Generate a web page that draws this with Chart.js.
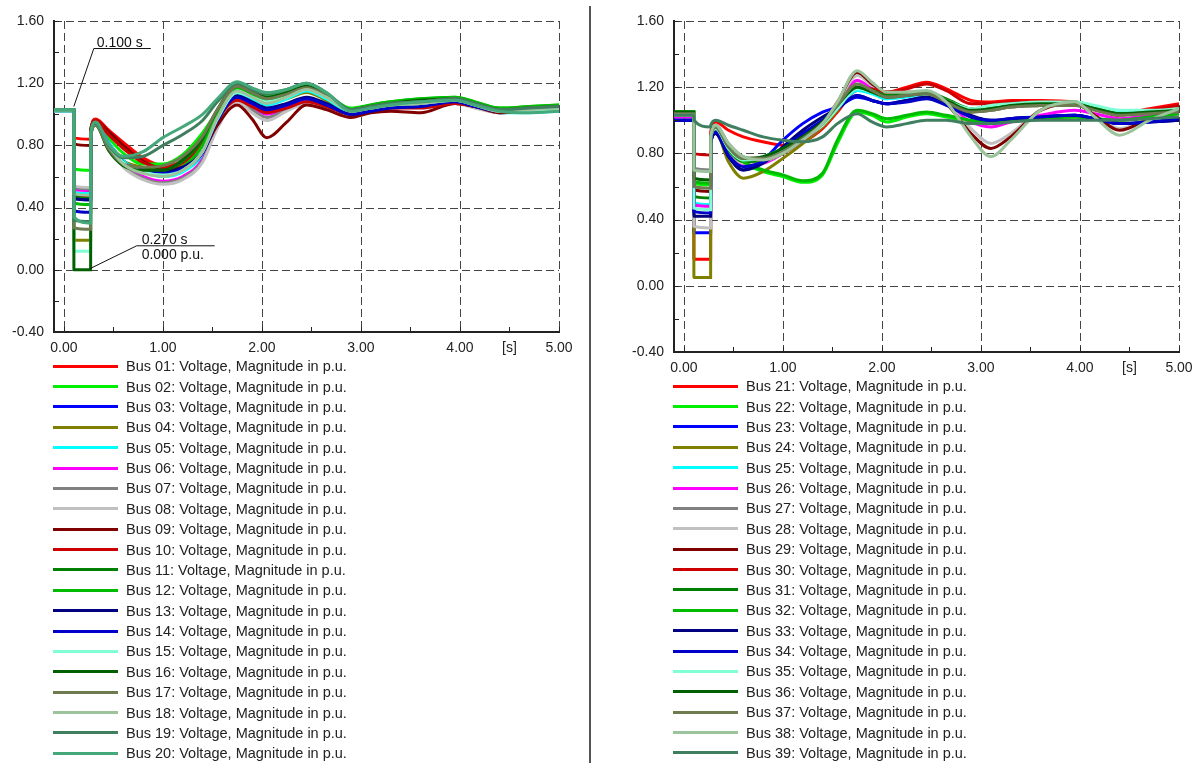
<!DOCTYPE html>
<html>
<head>
<meta charset="utf-8">
<script src="https://cdn.jsdelivr.net/npm/chart.js@4.4.1/dist/chart.umd.min.js"></script>
<style>
  body { margin: 0; background: #fff; font-family: "Liberation Sans", Arial, sans-serif; }
  #page { position: relative; width: 1195px; height: 763px; overflow: hidden; }
  .box { position: absolute; }
  .legend { position: absolute; font-size: 14.5px; color: #222; }
  .legend .row { height: 20.38px; display: flex; align-items: center; white-space: nowrap; }
  .legend .swatch { width: 65px; height: 3px; margin-right: 8px; flex: none; }
  #divider { position: absolute; left: 589px; top: 6px; width: 2px; height: 757px; background: #555; }
</style>
</head>
<body>
<div id="page">
  <div class="box" style="left:0;top:0;width:590px;height:362px"><canvas id="leftChart"></canvas></div>
  <div class="box" style="left:595px;top:0;width:610px;height:382px"><canvas id="rightChart"></canvas></div>
  <div id="divider"></div>
  <div class="legend" id="leftLegend" style="left:53px;top:356px"></div>
  <div class="legend" id="rightLegend" style="left:673px;top:376px"></div>
</div>

<script>
// simulation time in s (fault 0.100 s .. 0.270 s)
const timeS = [-0.1, 0.1, 0.101, 0.27, 0.271, 0.32, 0.45, 0.6, 0.8, 1.0, 1.2, 1.4, 1.55, 1.75,
               1.9, 2.05, 2.25, 2.45, 2.65, 2.9, 3.1, 3.3, 3.6, 3.95, 4.15, 4.4, 4.7, 5.0];

const xTickValues = [0, 0.5, 1, 1.5, 2, 2.5, 3, 3.5, 4, 4.5, 5];
const yTickValues = [-0.4, -0.2, 0, 0.2, 0.4, 0.6, 0.8, 1.0, 1.2, 1.4, 1.6];

// voltage magnitudes in p.u., buses 01-20
const bus01 = [1.02,1.02, 0.85,0.84, 0.90,0.97, 0.90,0.82,0.72,0.67,0.70,0.84,0.98,1.10, 1.06,1.02,1.05,1.09,1.06,1.00, 1.03,1.05,1.05,1.08, 1.05,1.02,1.03,1.04];
const bus02 = [1.03,1.03, 0.65,0.64, 0.90,0.96, 0.85,0.75,0.68,0.68,0.74,0.88,1.02,1.17, 1.14,1.12,1.15,1.19,1.13,1.04, 1.06,1.08,1.10,1.11, 1.08,1.04,1.05,1.06];
const bus03 = [1.02,1.02, 0.46,0.45, 0.88,0.95, 0.82,0.70,0.64,0.63,0.65,0.74,0.96,1.11, 1.07,1.03,1.06,1.10,1.06,1.00, 1.02,1.04,1.05,1.08, 1.05,1.02,1.02,1.03];
const bus04 = [1.02,1.02, 0.19,0.19, 0.86,0.94, 0.80,0.70,0.66,0.64,0.68,0.80,0.98,1.14, 1.10,1.07,1.10,1.14,1.09,1.01, 1.03,1.05,1.06,1.09, 1.06,1.02,1.03,1.04];
const bus05 = [1.02,1.02, 0.50,0.49, 0.88,0.95, 0.82,0.70,0.63,0.60,0.63,0.74,0.95,1.13, 1.10,1.06,1.10,1.15,1.10,1.01, 1.03,1.05,1.06,1.08, 1.05,1.01,1.01,1.02];
const bus06 = [1.02,1.02, 0.52,0.51, 0.88,0.95, 0.81,0.68,0.60,0.57,0.60,0.71,0.93,1.10, 1.05,1.00,1.04,1.09,1.05,0.99, 1.02,1.04,1.05,1.08, 1.05,1.01,1.02,1.03];
const bus07 = [1.02,1.02, 0.53,0.52, 0.88,0.95, 0.80,0.67,0.59,0.56,0.59,0.70,0.92,1.09, 1.03,0.98,1.03,1.08,1.04,0.99, 1.02,1.04,1.05,1.08, 1.05,1.01,1.02,1.03];
const bus08 = [1.02,1.02, 0.54,0.53, 0.88,0.95, 0.80,0.66,0.58,0.55,0.58,0.69,0.91,1.08, 1.01,0.96,1.02,1.07,1.03,0.99, 1.02,1.04,1.05,1.07, 1.04,1.01,1.02,1.03];
const bus09 = [1.02,1.02, 0.81,0.80, 0.90,0.96, 0.89,0.80,0.70,0.65,0.66,0.76,0.93,1.06, 0.97,0.85,0.95,1.06,1.03,0.98, 1.01,1.02,1.01,1.07, 1.05,1.01,1.02,1.03];
const bus10 = [1.02,1.02, 0.48,0.47, 0.88,0.96, 0.87,0.78,0.69,0.66,0.69,0.82,0.97,1.09, 1.05,1.01,1.04,1.08,1.05,1.00, 1.03,1.04,1.04,1.07, 1.05,1.02,1.03,1.04];
const bus11 = [1.03,1.03, 0.47,0.46, 0.87,0.94, 0.78,0.68,0.65,0.64,0.70,0.84,1.02,1.18, 1.14,1.10,1.13,1.17,1.12,1.03, 1.05,1.07,1.08,1.10, 1.07,1.03,1.04,1.05];
const bus12 = [1.03,1.03, 0.43,0.42, 0.87,0.94, 0.80,0.69,0.64,0.62,0.66,0.80,1.00,1.17, 1.13,1.09,1.13,1.18,1.13,1.03, 1.06,1.08,1.10,1.11, 1.08,1.04,1.05,1.06];
const bus13 = [1.02,1.02, 0.46,0.45, 0.87,0.94, 0.80,0.69,0.64,0.63,0.66,0.76,0.97,1.12, 1.08,1.04,1.07,1.11,1.07,1.00, 1.03,1.05,1.06,1.09, 1.06,1.02,1.02,1.03];
const bus14 = [1.02,1.02, 0.38,0.37, 0.87,0.94, 0.80,0.69,0.64,0.62,0.65,0.75,0.96,1.11, 1.07,1.03,1.06,1.10,1.06,1.00, 1.02,1.04,1.05,1.08, 1.05,1.02,1.02,1.03];
const bus15 = [1.02,1.02, 0.12,0.12, 0.86,0.94, 0.80,0.69,0.63,0.61,0.64,0.76,0.97,1.14, 1.11,1.08,1.11,1.16,1.11,1.02, 1.04,1.06,1.07,1.09, 1.06,1.02,1.02,1.03];
const bus16 = [1.03,1.03, 0.00,0.00, 0.86,0.93, 0.77,0.67,0.64,0.64,0.71,0.85,1.03,1.19, 1.15,1.11,1.14,1.18,1.13,1.03, 1.05,1.07,1.09,1.10, 1.07,1.03,1.04,1.05];
const bus17 = [1.03,1.03, 0.27,0.26, 0.86,0.93, 0.78,0.68,0.66,0.67,0.73,0.86,1.03,1.18, 1.14,1.10,1.13,1.17,1.12,1.03, 1.05,1.07,1.08,1.10, 1.07,1.03,1.04,1.05];
const bus18 = [1.03,1.03, 0.49,0.48, 0.87,0.94, 0.80,0.68,0.62,0.60,0.64,0.76,0.98,1.15, 1.11,1.07,1.11,1.16,1.11,1.02, 1.04,1.06,1.07,1.09, 1.06,1.02,1.03,1.04];
const bus19 = [1.03,1.03, 0.32,0.31, 0.87,0.94, 0.80,0.72,0.73,0.80,0.87,0.96,1.08,1.20, 1.16,1.13,1.16,1.20,1.14,1.03, 1.05,1.07,1.08,1.10, 1.07,1.03,1.04,1.05];
const bus20 = [1.03,1.03, 0.34,0.30, 0.88,0.95, 0.81,0.73,0.76,0.85,0.92,1.00,1.10,1.21, 1.17,1.14,1.16,1.20,1.14,1.02, 1.04,1.06,1.08,1.09, 1.06,1.02,1.01,1.02];

// voltage magnitudes in p.u., buses 21-39
const bus21 = [1.03,1.03, 0.16,0.16, 0.93,0.99, 0.94,0.90,0.87,0.85,0.87,0.95,1.05,1.18, 1.18,1.17,1.20,1.23,1.19,1.12, 1.11,1.12,1.12,1.11, 1.08,1.04,1.07,1.10];
const bus22 = [1.05,1.05, 0.62,0.61, 0.90,0.95, 0.82,0.74,0.69,0.66,0.625,0.67,0.86,1.05, 1.03,0.99,1.02,1.04,1.02,0.99, 0.98,1.00,1.01,1.02, 1.01,1.00,1.02,1.04];
const bus23 = [1.00,1.00, 0.32,0.32, 0.86,0.92, 0.78,0.70,0.76,0.88,0.98,1.05,1.08,1.14, 1.12,1.10,1.12,1.14,1.10,1.02, 0.99,1.01,1.02,1.03, 1.01,0.98,0.99,1.00];
const bus24 = [1.03,1.03, 0.05,0.05, 0.86,0.93, 0.75,0.65,0.69,0.77,0.86,0.96,1.06,1.20, 1.17,1.14,1.15,1.17,1.12,1.05, 1.06,1.08,1.09,1.10, 1.07,1.04,1.05,1.07];
const bus25 = [1.03,1.03, 0.50,0.49, 0.89,0.96, 0.84,0.76,0.78,0.83,0.90,0.98,1.07,1.18, 1.16,1.13,1.14,1.16,1.12,1.06, 1.08,1.09,1.10,1.10, 1.08,1.05,1.05,1.06];
const bus26 = [1.02,1.02, 0.49,0.48, 0.89,0.95, 0.82,0.73,0.74,0.80,0.88,0.97,1.08,1.24, 1.19,1.14,1.15,1.17,1.10,0.99, 0.96,0.99,1.03,1.06, 1.04,1.01,1.03,1.05];
const bus27 = [1.03,1.03, 0.71,0.70, 0.90,0.97, 0.86,0.78,0.76,0.80,0.88,0.98,1.10,1.28, 1.22,1.16,1.16,1.17,1.12,1.05, 1.06,1.08,1.09,1.10, 1.07,1.04,1.05,1.06];
const bus28 = [1.03,1.03, 0.36,0.35, 0.88,0.95, 0.82,0.74,0.75,0.80,0.88,0.98,1.10,1.27, 1.21,1.16,1.16,1.17,1.10,0.95, 0.86,0.92,1.06,1.10, 1.03,0.95,1.01,1.06];
const bus29 = [1.03,1.03, 0.58,0.57, 0.89,0.96, 0.84,0.76,0.76,0.80,0.88,0.98,1.11,1.29, 1.22,1.17,1.17,1.17,1.10,0.92, 0.83,0.90,1.06,1.10, 1.03,0.94,1.01,1.07];
const bus30 = [1.03,1.03, 0.80,0.79, 0.90,0.96, 0.84,0.76,0.77,0.81,0.88,0.97,1.08,1.20, 1.19,1.17,1.19,1.22,1.18,1.10, 1.10,1.11,1.11,1.10, 1.07,1.03,1.06,1.09];
const bus31 = [1.05,1.05, 0.54,0.53, 0.88,0.95, 0.82,0.75,0.76,0.82,0.90,0.99,1.08,1.20, 1.18,1.15,1.16,1.17,1.13,1.07, 1.08,1.09,1.10,1.11, 1.08,1.04,1.05,1.07];
const bus32 = [1.05,1.05, 0.63,0.62, 0.90,0.95, 0.83,0.75,0.70,0.67,0.635,0.68,0.88,1.06, 1.04,1.01,1.03,1.05,1.03,1.00, 0.99,1.00,1.01,1.02, 1.01,1.00,1.02,1.04];
const bus33 = [1.00,1.00, 0.42,0.42, 0.86,0.92, 0.78,0.70,0.74,0.84,0.94,1.02,1.07,1.15, 1.12,1.10,1.12,1.14,1.10,1.03, 1.00,1.01,1.02,1.03, 1.01,0.98,0.99,1.00];
const bus34 = [1.00,1.00, 0.45,0.44, 0.87,0.93, 0.79,0.72,0.75,0.83,0.92,1.00,1.07,1.15, 1.12,1.10,1.11,1.13,1.09,1.02, 1.00,1.01,1.02,1.03, 1.01,0.98,0.99,1.01];
const bus35 = [1.03,1.03, 0.47,0.46, 0.89,0.95, 0.83,0.76,0.77,0.82,0.89,0.97,1.07,1.19, 1.17,1.14,1.15,1.16,1.12,1.07, 1.09,1.10,1.11,1.11, 1.09,1.06,1.06,1.07];
const bus36 = [1.05,1.05, 0.65,0.64, 0.90,0.96, 0.84,0.77,0.78,0.83,0.90,0.99,1.09,1.20, 1.17,1.14,1.15,1.16,1.12,1.06, 1.07,1.09,1.10,1.10, 1.07,1.04,1.05,1.06];
const bus37 = [1.04,1.04, 0.60,0.59, 0.89,0.96, 0.84,0.77,0.77,0.81,0.89,0.98,1.09,1.22, 1.18,1.14,1.15,1.16,1.11,1.05, 1.06,1.08,1.09,1.09, 1.06,1.03,1.04,1.05];
const bus38 = [1.03,1.03, 0.70,0.69, 0.90,0.97, 0.86,0.78,0.76,0.80,0.88,0.98,1.11,1.30, 1.23,1.17,1.17,1.18,1.11,0.90, 0.78,0.88,1.06,1.11, 1.02,0.91,1.00,1.07];
const bus39 = [1.03,1.03, 1.00,0.96, 0.97,1.00, 0.97,0.94,0.90,0.88,0.87,0.90,0.98,1.04, 0.99,0.96,0.98,1.00,1.00,0.98, 0.98,0.99,1.00,1.00, 1.00,1.00,1.01,1.02];

const leftBuses = [bus01,bus02,bus03,bus04,bus05,bus06,bus07,bus08,bus09,bus10,
                   bus11,bus12,bus13,bus14,bus15,bus16,bus17,bus18,bus19,bus20];
const rightBuses = [bus21,bus22,bus23,bus24,bus25,bus26,bus27,bus28,bus29,bus30,
                    bus31,bus32,bus33,bus34,bus35,bus36,bus37,bus38,bus39];

// PowerFactory default curve colours, same cycle on both plots
const curveColors = ['#ff0000','#00ee00','#0000ff','#808000','#00ffff','#ff00ff','#808080','#c0c0c0','#800000','#cc0000',
                     '#008000','#00bb00','#000080','#0000c8','#80ffd4','#006000','#6e7a50','#9cc49c','#3f7f5f','#45a87a'];

const font = '"Liberation Sans", Arial, sans-serif';

function busLabel(n) {
    return 'Bus ' + String(n).padStart(2, '0') + ': Voltage, Magnitude in p.u.';
}

function isMultiple(v, step) {
    return Math.abs(v / step - Math.round(v / step)) < 1e-6;
}

// gestricheltes Gitter nur an den Hauptteilungen
const dashedGrid = {
    id: 'dashedGrid',
    beforeDatasetsDraw(chart) {
        const { ctx, chartArea: a, scales: { x, y } } = chart;
        ctx.save();
        ctx.strokeStyle = '#444';
        ctx.lineWidth = 1;
        ctx.setLineDash([8, 4]);
        ctx.beginPath();
        xTickValues.filter(v => isMultiple(v, 1)).forEach(v => {
            const px = Math.round(x.getPixelForValue(v)) + 0.5;
            ctx.moveTo(px, a.top); ctx.lineTo(px, a.bottom);
        });
        yTickValues.filter(v => isMultiple(v, 0.4) && v > -0.39).forEach(v => {
            const py = Math.round(y.getPixelForValue(v)) + 0.5;
            ctx.moveTo(a.left, py); ctx.lineTo(a.right, py);
        });
        ctx.stroke();
        ctx.restore();
    }
};

// kleine Teilstriche an den Achsen (nach innen)
const axisTicks = {
    id: 'axisTicks',
    afterDraw(chart) {
        const { ctx, chartArea: a, scales: { x, y } } = chart;
        ctx.save();
        ctx.strokeStyle = '#222';
        ctx.lineWidth = 1;
        ctx.beginPath();
        xTickValues.forEach(v => {
            const px = Math.round(x.getPixelForValue(v)) + 0.5;
            ctx.moveTo(px, a.bottom); ctx.lineTo(px, a.bottom - 5);
        });
        yTickValues.forEach(v => {
            const py = Math.round(y.getPixelForValue(v)) + 0.5;
            ctx.moveTo(a.left, py); ctx.lineTo(a.left + 5, py);
        });
        ctx.stroke();
        ctx.restore();
    }
};

// Beschriftung Fehlereintritt / Fehlerklärung (nur linkes Diagramm)
const faultMarks = {
    id: 'faultMarks',
    afterDatasetsDraw(chart) {
        const { ctx, scales: { x, y } } = chart;
        ctx.save();
        ctx.strokeStyle = '#111';
        ctx.fillStyle = '#111';
        ctx.lineWidth = 1;
        ctx.font = '14px ' + font;

        let px = x.getPixelForValue(0.1), py = y.getPixelForValue(1.05);
        ctx.beginPath();
        ctx.moveTo(px, py);
        ctx.lineTo(px + 20, py - 58);
        ctx.lineTo(px + 77, py - 58);
        ctx.stroke();
        ctx.fillText('0.100 s', px + 23, py - 60);

        px = x.getPixelForValue(0.27) - 1; py = y.getPixelForValue(0) - 1;
        ctx.beginPath();
        ctx.moveTo(px, py);
        ctx.lineTo(px + 47, py - 23);
        ctx.lineTo(px + 125, py - 23);
        ctx.stroke();
        ctx.fillText('0.270 s', px + 52, py - 25);
        ctx.fillText('0.000 p.u.', px + 52, py - 10);
        ctx.restore();
    }
};

function makeChart(canvasId, buses, axisWidth, padRight, axisHeight, extraPlugins) {
    const datasets = buses.map((values, i) => ({
        data: timeS.map((t, k) => ({ x: t, y: values[k] })),
        borderColor: curveColors[i],
        borderWidth: 3,
        pointRadius: 0,
        cubicInterpolationMode: 'monotone',
        order: buses.length - i
    }));

    return new Chart(document.getElementById(canvasId), {
        type: 'line',
        data: { datasets },
        options: {
            responsive: true,
            maintainAspectRatio: false,
            animation: false,
            parsing: false,
            layout: { padding: { left: 0, right: padRight, top: 21, bottom: 0 } },
            plugins: { legend: { display: false }, tooltip: { enabled: false } },
            scales: {
                x: {
                    type: 'linear',
                    min: -0.1,
                    max: 5,
                    afterBuildTicks: s => { s.ticks = xTickValues.map(v => ({ value: v })); },
                    afterFit: s => { s.height = axisHeight; },
                    ticks: {
                        autoSkip: false,
                        maxRotation: 0,
                        padding: 8,
                        color: '#222',
                        font: { family: font, size: 14 },
                        callback: v => isMultiple(v, 1) ? v.toFixed(2) : (Math.abs(v - 4.5) < 1e-6 ? '[s]' : '')
                    },
                    grid: { drawTicks: false, color: 'rgba(0,0,0,0)' },
                    border: { display: true, color: '#222', width: 2 }
                },
                y: {
                    type: 'linear',
                    min: -0.4,
                    max: 1.6,
                    afterBuildTicks: s => { s.ticks = yTickValues.map(v => ({ value: v })); },
                    afterFit: s => { s.width = axisWidth; },
                    ticks: {
                        padding: 10,
                        color: '#222',
                        font: { family: font, size: 14 },
                        callback: v => isMultiple(v, 0.4) ? v.toFixed(2) : ''
                    },
                    grid: { drawTicks: false, color: 'rgba(0,0,0,0)' },
                    border: { display: true, color: '#222', width: 2 }
                }
            }
        },
        plugins: [dashedGrid, axisTicks].concat(extraPlugins)
    });
}

function buildLegend(elId, buses, firstNumber) {
    const el = document.getElementById(elId);
    buses.forEach((values, i) => {
        const row = document.createElement('div');
        row.className = 'row';
        const sw = document.createElement('span');
        sw.className = 'swatch';
        sw.style.background = curveColors[i];
        const txt = document.createElement('span');
        txt.textContent = busLabel(firstNumber + i);
        row.appendChild(sw);
        row.appendChild(txt);
        el.appendChild(row);
    });
}

makeChart('leftChart', leftBuses, 54, 31, 30, [faultMarks]);
makeChart('rightChart', rightBuses, 79, 26, 30, []);
buildLegend('leftLegend', leftBuses, 1);
buildLegend('rightLegend', rightBuses, 21);
</script>
</body>
</html>
